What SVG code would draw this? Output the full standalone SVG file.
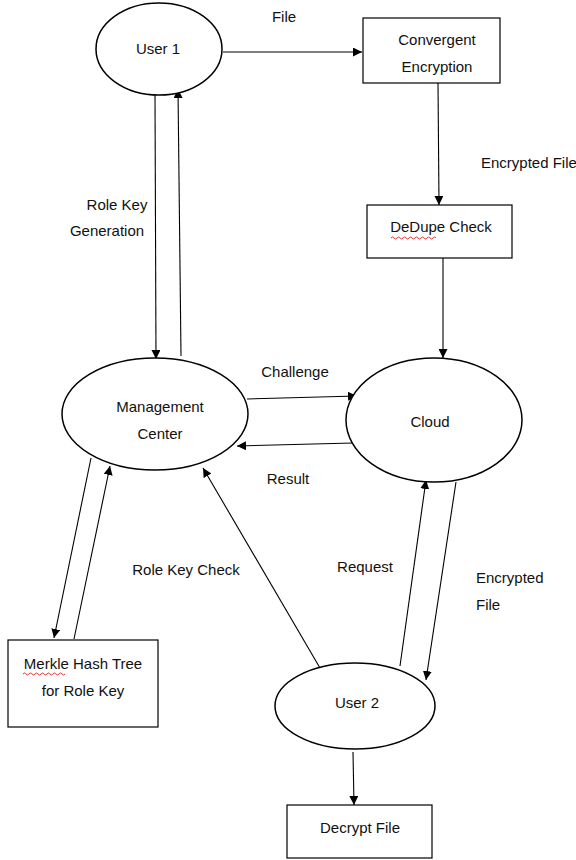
<svg xmlns="http://www.w3.org/2000/svg" width="576" height="860" viewBox="0 0 576 860">
<style>
.n{fill:#fff;stroke:#000;stroke-width:1.5}
.b{fill:#fff;stroke:#000;stroke-width:1.2}
.t{font-family:"Liberation Sans",Arial,sans-serif;font-size:15px;fill:#111;text-anchor:middle}
.l{font-family:"Liberation Sans",Arial,sans-serif;font-size:15px;fill:#111}
.c{fill:none;stroke:#000;stroke-width:1.1}
.sq{fill:none;stroke:#d00;stroke-width:0.8}
</style>
<defs>
<marker id="a" viewBox="0 0 10 10" refX="10" refY="5" markerWidth="9" markerHeight="9" markerUnits="userSpaceOnUse" orient="auto">
<path d="M0,0 L10,5 L0,10 z" fill="#000"/>
</marker>
</defs>
<rect width="576" height="860" fill="#fff"/>
<g id="connectors">
<line class="c" x1="223" y1="52" x2="362" y2="52" marker-end="url(#a)"/>
<line class="c" x1="438" y1="83" x2="439" y2="205" marker-end="url(#a)"/>
<line class="c" x1="443" y1="258" x2="443" y2="358" marker-end="url(#a)"/>
<line class="c" x1="155" y1="95" x2="156" y2="359" marker-end="url(#a)"/>
<line class="c" x1="181" y1="356" x2="178" y2="89" marker-end="url(#a)"/>
<line class="c" x1="247" y1="399" x2="357" y2="396" marker-end="url(#a)"/>
<line class="c" x1="353" y1="443" x2="237" y2="446" marker-end="url(#a)"/>
<line class="c" x1="91" y1="458" x2="54" y2="638" marker-end="url(#a)"/>
<line class="c" x1="74" y1="639" x2="110" y2="466" marker-end="url(#a)"/>
<line class="c" x1="320" y1="668" x2="203" y2="468" marker-end="url(#a)"/>
<line class="c" x1="400" y1="666" x2="426" y2="480" marker-end="url(#a)"/>
<line class="c" x1="456" y1="482" x2="426" y2="680" marker-end="url(#a)"/>
<line class="c" x1="353" y1="752" x2="354" y2="805" marker-end="url(#a)"/>
</g>
<g id="labels">
<text class="t" x="284" y="22">File</text>
<text class="l" x="481" y="168">Encrypted File</text>
<text class="t" x="117" y="210">Role Key</text>
<text class="t" x="107" y="236">Generation</text>
<text class="t" x="295" y="377">Challenge</text>
<text class="t" x="288" y="484">Result</text>
<text class="t" x="186" y="575">Role Key Check</text>
<text class="t" x="365" y="572">Request</text>
<text class="l" x="476" y="583">Encrypted</text>
<text class="l" x="476" y="610">File</text>
</g>
<g id="user1">
<ellipse class="n" cx="159" cy="49" rx="63" ry="46"/>
<text class="t" x="158" y="54">User 1</text>
</g>
<g id="convergent">
<rect class="b" x="363" y="18" width="137" height="65"/>
<text class="t" x="437" y="45">Convergent</text>
<text class="t" x="437" y="72">Encryption</text>
</g>
<g id="dedupe">
<rect class="b" x="367" y="205" width="145" height="53"/>
<text class="t" x="441" y="232">DeDupe Check</text>
<path class="sq" d="M391,238 q1.5,-2 3,0 t3,0 t3,0 t3,0 t3,0 t3,0 t3,0 t3,0 t3,0 t3,0 t3,0 t3,0 t3,0 t3,0 t3,0"/>
</g>
<g id="management">
<ellipse class="n" cx="155" cy="414" rx="93" ry="56"/>
<text class="t" x="160" y="412">Management</text>
<text class="t" x="160" y="439">Center</text>
</g>
<g id="cloud">
<ellipse class="n" cx="434" cy="420" rx="88" ry="62"/>
<text class="t" x="430" y="427">Cloud</text>
</g>
<g id="merkle">
<rect class="b" x="8" y="640" width="150" height="87"/>
<text class="t" x="83" y="669">Merkle Hash Tree</text>
<text class="t" x="83" y="696">for Role Key</text>
<path class="sq" d="M23,674 q1.5,-2 3,0 t3,0 t3,0 t3,0 t3,0 t3,0 t3,0 t3,0 t3,0 t3,0 t3,0 t3,0 t3,0 t3,0"/>
</g>
<g id="user2">
<ellipse class="n" cx="355" cy="706" rx="80" ry="43"/>
<text class="t" x="357" y="708">User 2</text>
</g>
<g id="decrypt">
<rect class="b" x="287" y="805" width="145" height="53"/>
<text class="t" x="360" y="833">Decrypt File</text>
</g>
</svg>
